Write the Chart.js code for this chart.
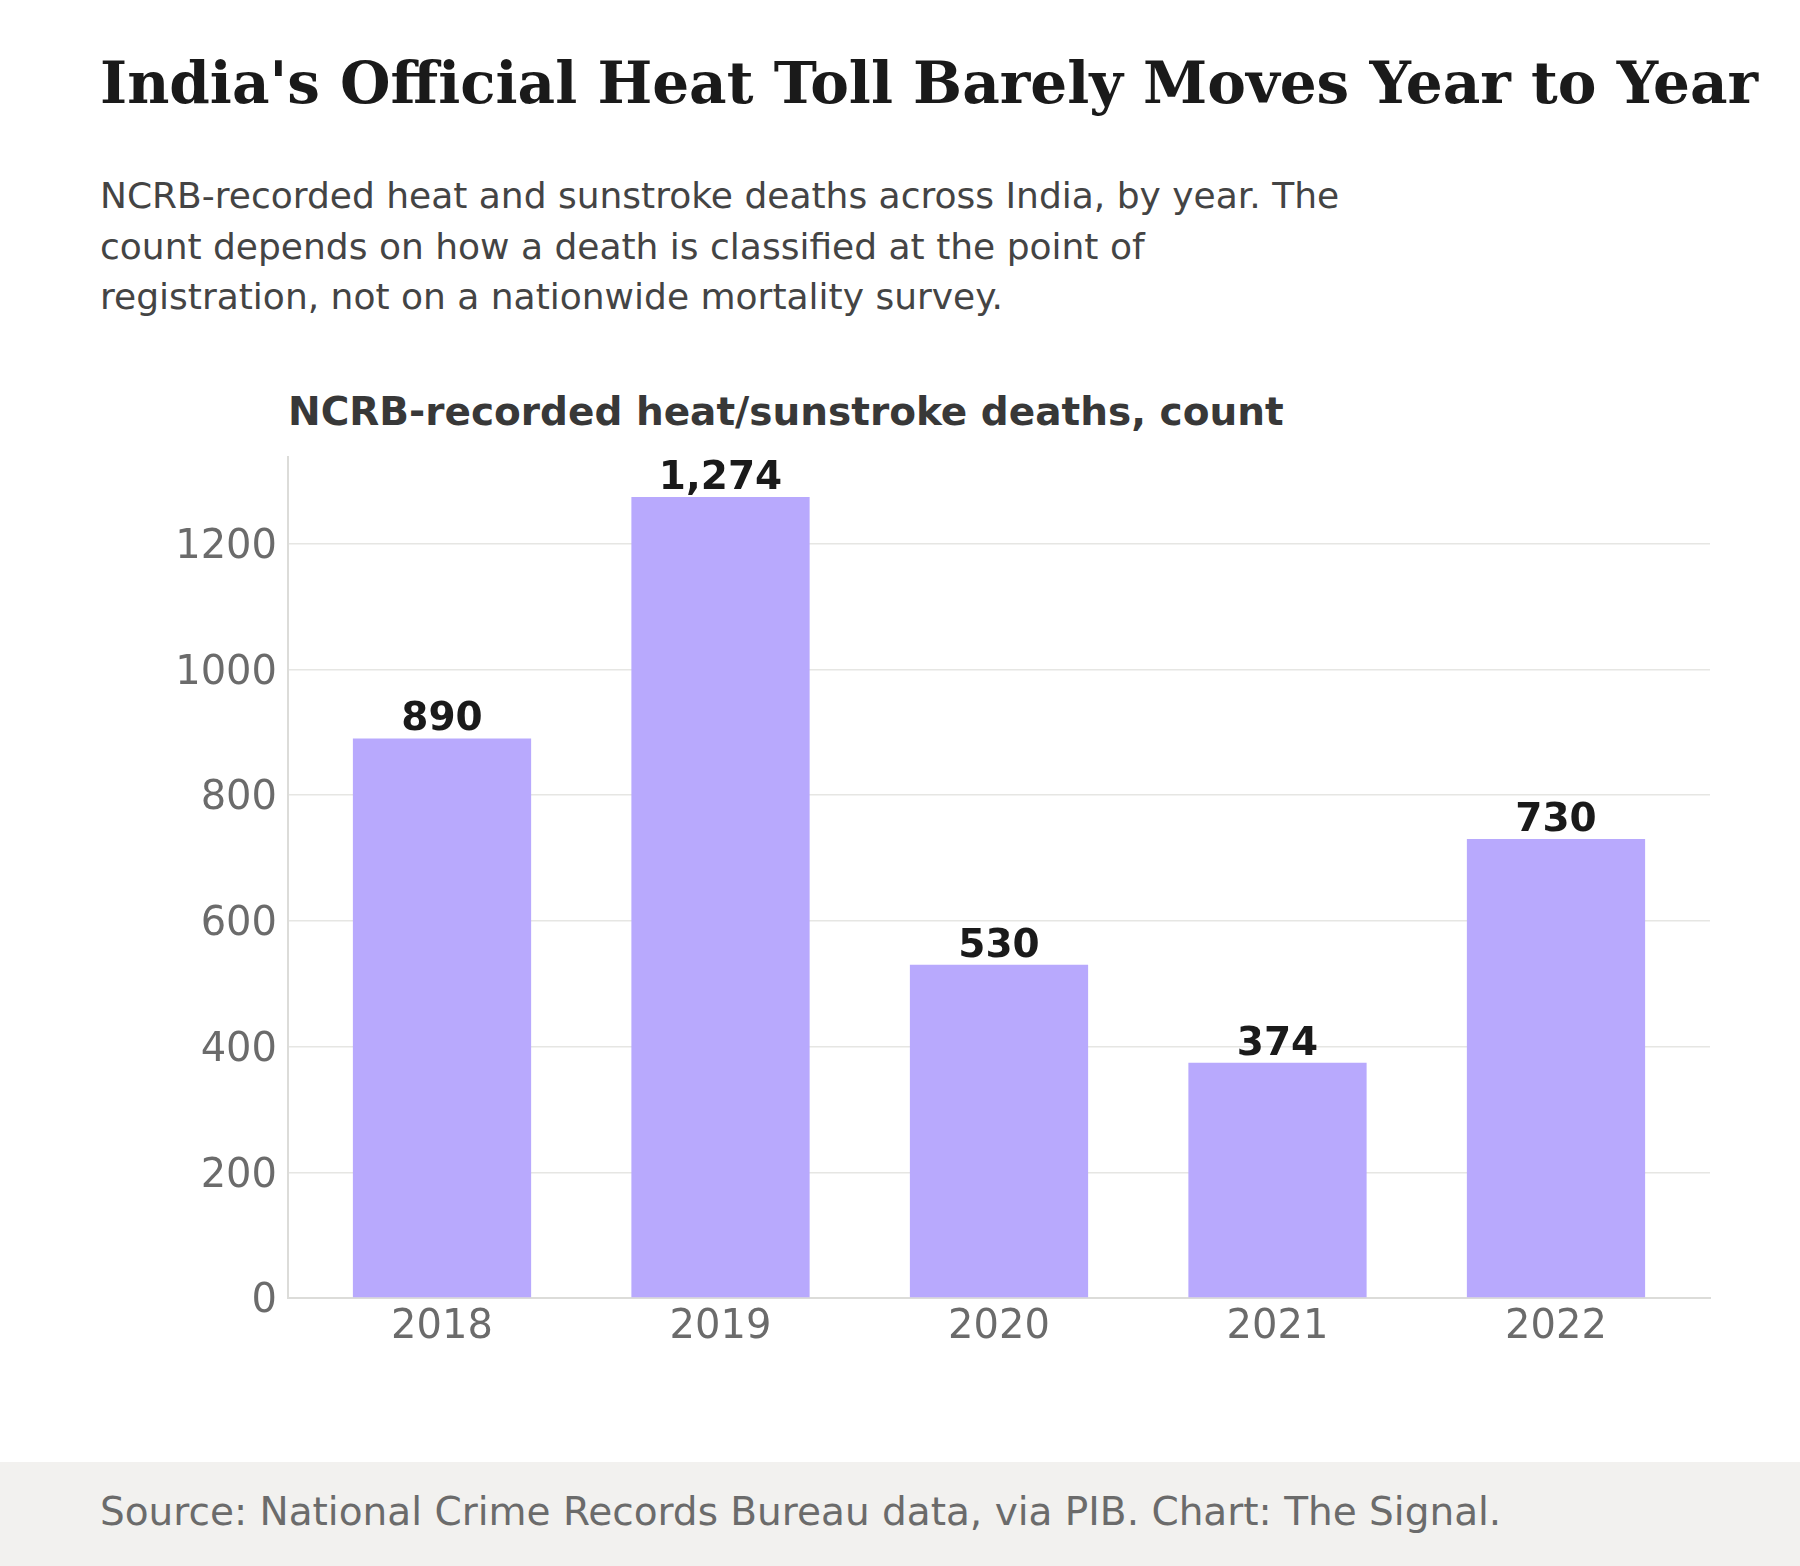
<!DOCTYPE html>
<html>
<head>
<meta charset="utf-8">
<script src="https://cdn.jsdelivr.net/npm/chart.js@4.4.1/dist/chart.umd.min.js"></script>
<style>
  html, body { margin:0; padding:0; background:#ffffff; }
  body { width:1800px; height:1566px; position:relative; overflow:hidden; font-family:"DejaVu Sans", sans-serif; }
  .t { position:absolute; white-space:nowrap; }
  #title { left:100px; top:50px; font-family:"DejaVu Serif", serif; font-weight:bold; font-size:58px; line-height:1.164; color:#1a1a1a; }
  #sub { left:100px; top:171px; font-size:36px; line-height:50.5px; color:#444444; }
  #ctitle { left:288px; top:389px; font-size:39px; font-weight:bold; line-height:1.164; color:#383838; }
  #footer { position:absolute; left:0; top:1462px; width:1800px; height:104px; background:#f2f1ef; }
  #ftext { left:100px; top:1489px; font-size:39px; line-height:1.164; color:#6b6b6b; }
  #wrap { position:absolute; left:0; top:380px; width:1800px; height:1000px; }
</style>
</head>
<body>
<div class="t" id="title">India's Official Heat Toll Barely Moves Year to Year</div>
<div class="t" id="sub">NCRB-recorded heat and sunstroke deaths across India, by year. The<br>count depends on how a death is classified at the point of<br>registration, not on a nationwide mortality survey.</div>
<div class="t" id="ctitle">NCRB-recorded heat/sunstroke deaths, count</div>
<div id="wrap"><canvas id="c" width="1800" height="1000"></canvas></div>
<div id="footer"></div>
<div class="t" id="ftext">Source: National Crime Records Bureau data, via PIB. Chart: The Signal.</div>
<script>
const years = ["2018", "2019", "2020", "2021", "2022"];
const deaths = [890, 1274, 530, 374, 730];
const yTicks = [0, 200, 400, 600, 800, 1000, 1200];

const valueLabels = {
  id: 'valueLabels',
  afterDatasetsDraw(chart) {
    const ctx = chart.ctx;
    const meta = chart.getDatasetMeta(0);
    ctx.save();
    ctx.font = 'bold 39px "DejaVu Sans"';
    ctx.fillStyle = '#1a1a1a';
    ctx.textAlign = 'center';
    ctx.textBaseline = 'alphabetic';
    meta.data.forEach((bar, i) => {
      ctx.fillText(deaths[i].toLocaleString('en-US'), bar.x, bar.y - 8);
    });
    ctx.restore();
  }
};

new Chart(document.getElementById('c'), {
  type: 'bar',
  data: {
    datasets: [{
      data: deaths.map((v, i) => ({ x: i, y: v })),
      backgroundColor: '#b8a9fd',
      borderWidth: 0,
      categoryPercentage: 1,
      barPercentage: 0.64
    }]
  },
  options: {
    responsive: false,
    animation: false,
    events: [],
    layout: { padding: { left: 128, right: 90, top: 77, bottom: 22 } },
    plugins: { legend: { display: false }, tooltip: { enabled: false } },
    scales: {
      x: {
        type: 'linear',
        offset: false,
        min: -0.553,
        max: 4.553,
        afterBuildTicks(scale) { scale.ticks = years.map((_, i) => ({ value: i })); },
        afterFit(scale) { scale.height = 60; },
        grid: { display: false, drawTicks: false, offset: false },
        border: { display: true, color: '#dcdcd9', width: 2 },
        ticks: {
          padding: 6,
          autoSkip: false,
          maxRotation: 0,
          color: '#6b6b6b',
          font: { family: 'DejaVu Sans', size: 40 },
          callback: (v) => years[v] !== undefined ? years[v] : ''
        }
      },
      y: {
        min: 0,
        max: Math.max(...deaths) * 1.05,
        afterBuildTicks(scale) { scale.ticks = yTicks.map(v => ({ value: v })); },
        afterFit(scale) { scale.width = 160; },
        grid: { color: '#e6e6e3', lineWidth: 1.5, drawTicks: false },
        border: { display: true, color: '#dcdcd9', width: 2 },
        ticks: {
          padding: 11,
          labelOffset: 4,
          color: '#6b6b6b',
          font: { family: 'DejaVu Sans', size: 40 },
          callback: (v) => String(v)
        }
      }
    }
  },
  plugins: [valueLabels]
});
</script>
</body>
</html>
